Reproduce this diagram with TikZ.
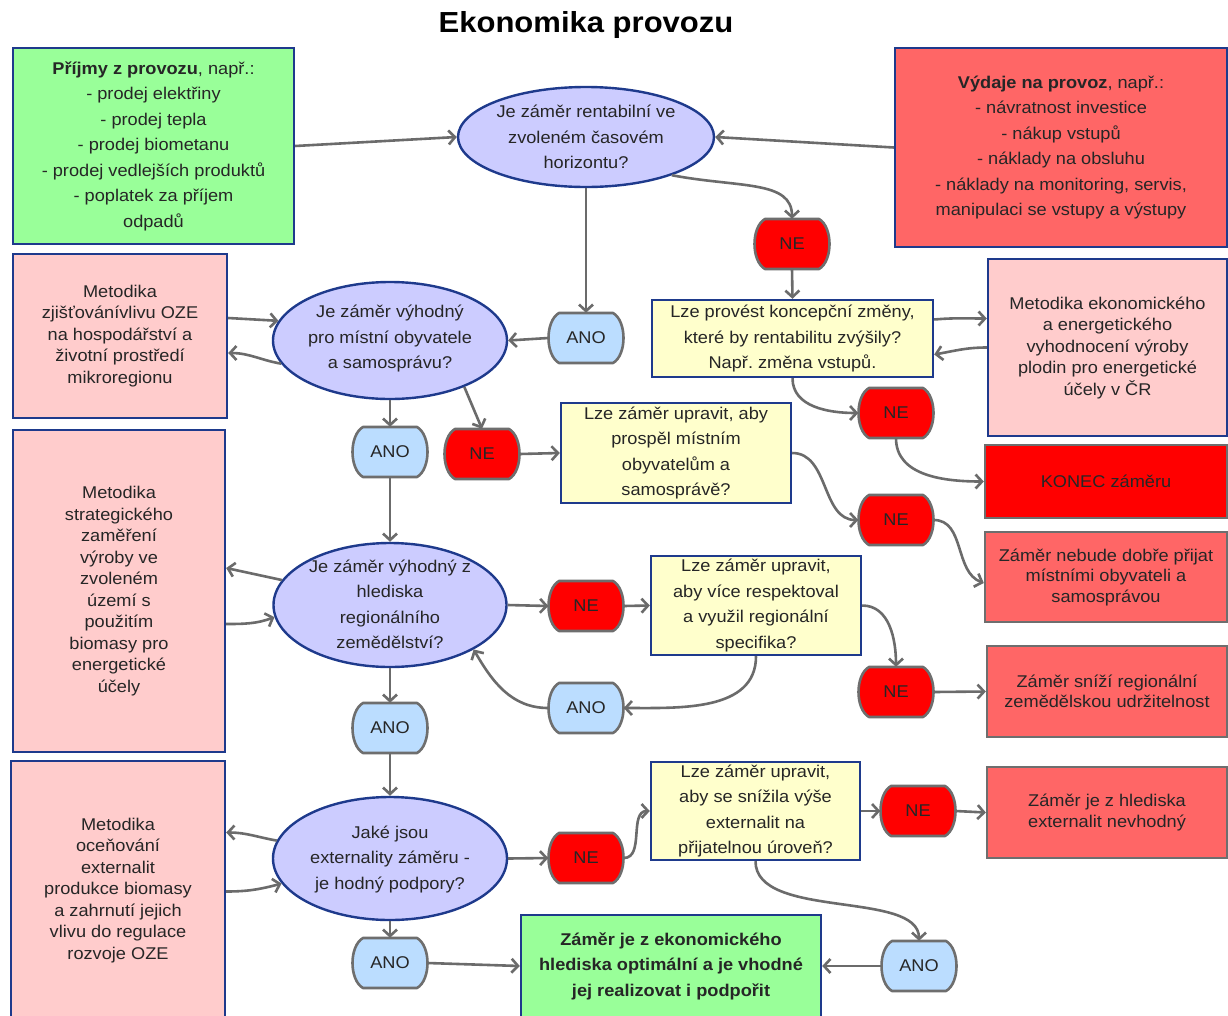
\documentclass[tikz,border=0pt]{standalone}
\usepackage{fontspec}
\setmainfont{Liberation Sans}[FakeStretch=1.07]
\usetikzlibrary{arrows.meta,shapes.geometric,calc}
\frenchspacing

\definecolor{cgreen}{HTML}{99FF99}
\definecolor{cred}{HTML}{FF6666}
\definecolor{cpink}{HTML}{FFCCCC}
\definecolor{cyellow}{HTML}{FFFFCC}
\definecolor{cell}{HTML}{CCCCFF}
\definecolor{cano}{HTML}{BBDDFF}
\definecolor{cne}{HTML}{FF0000}
\definecolor{bordblue}{HTML}{1E3A8C}
\definecolor{bordgray}{HTML}{6E6E6E}
\definecolor{cline}{HTML}{6B6B6B}
\definecolor{txt}{HTML}{262626}

\newcommand\fsmain{\fontsize{17}{25.5}\selectfont}
\newcommand\fsmeth{\fontsize{17}{21.5}\selectfont}
\newcommand\fsres{\fontsize{17}{20.5}\selectfont}

% decision label with bulging sides (ANO / NE)
\newcommand\choicebox[5]{%
  \filldraw[choiceline, fill=#4, shift={(#2,#3)}]
    (-27,-25) -- (27,-25) .. controls (41,-17) and (41,17) .. (27,25)
    -- (-27,25) .. controls (-41,17) and (-41,-17) .. (-27,-25) -- cycle;
  \node[choicetext] (#1) at (#2,#3) {#5};
}

\begin{document}
\begin{tikzpicture}[x=1pt,y=-1pt,
  box/.style={draw=bordblue, line width=2.4pt, align=center, inner sep=0pt, text=txt, font=\fsmain},
  resbox/.style={draw=bordgray, line width=2.4pt, align=center, inner sep=0pt, text=txt, font=\fsres},
  ell/.style={ellipse, draw=bordblue, fill=cell, line width=2.4pt, inner sep=0pt},
  elltext/.style={align=center, inner sep=0pt, text=txt, font=\fsmain},
  choiceline/.style={draw=bordgray, line width=2.6pt, line join=round},
  choicetext/.style={minimum width=75, minimum height=50, inner sep=0pt, text=txt, font=\fsmain},
  conn/.style={draw=cline, line width=2.6pt, -{Straight Barb[length=6.5pt,width=14pt]}}
]
\useasboundingbox (0,0) rectangle (1228,1015);
\clip (0,0) rectangle (1228,1015);
\fill[white] (0,0) rectangle (1228,1015);

% title
\node[text=black, font=\fontsize{29}{34}\selectfont\bfseries] (title) at (586,25) {Ekonomika provozu};

% income and expenses
\node[box, fill=cgreen, minimum width=281, minimum height=196] (inc) at (153.5,146)
  {\textbf{Příjmy z provozu}, např.:\\- prodej elektřiny\\- prodej tepla\\- prodej biometanu\\- prodej vedlejších produktů\\- poplatek za příjem\\odpadů};
\node[box, fill=cred, minimum width=332, minimum height=199] (exp) at (1061,147.5)
  {\textbf{Výdaje na provoz}, např.:\\- návratnost investice\\- nákup vstupů\\- náklady na obsluhu\\- náklady na monitoring, servis,\\manipulaci se vstupy a výstupy};

% questions (ellipses)
\node[ell, minimum width=256, minimum height=100] (e1) at (586,137) {};
\node[elltext] (e1t) at (586,137) {Je záměr rentabilní ve\\zvoleném časovém\\horizontu?};
\node[ell, minimum width=234, minimum height=117] (e2) at (390,340.5) {};
\node[elltext] (e2t) at (390,338.5) {Je záměr výhodný\\pro místní obyvatele\\a samosprávu?};
\node[ell, minimum width=233, minimum height=124] (e3) at (390,605) {};
\node[elltext] (e3t) at (390,604.5) {Je záměr výhodný z\\hlediska\\regionálního\\zemědělství?};
\node[ell, minimum width=234, minimum height=123] (e4) at (390,858.5) {};
\node[elltext] (e4t) at (390,859) {Jaké jsou\\externality záměru -\\je hodný podpory?};

% methodology boxes
\node[box, fill=cpink, font=\fsmeth, minimum width=214, minimum height=164] (p1) at (120,336)
  {Metodika\\zjišťovánívlivu OZE\\na hospodářství a\\životní prostředí\\mikroregionu};
\node[box, fill=cpink, font=\fsmeth, minimum width=239, minimum height=177] (pekon) at (1107.5,347.5)
  {Metodika ekonomického\\a energetického\\vyhodnocení výroby\\plodin pro energetické\\účely v ČR};
\node[box, fill=cpink, font=\fsmeth, minimum width=212, minimum height=322] (p3) at (119,591)
  {Metodika\\strategického\\zaměření\\výroby ve\\zvoleném\\území s\\použitím\\biomasy pro\\energetické\\účely};
\node[box, fill=cpink, font=\fsmeth, minimum width=214, minimum height=259] (p4) at (118,890.5)
  {Metodika\\oceňování\\externalit\\produkce biomasy\\a zahrnutí jejich\\vlivu do regulace\\rozvoje OZE};

% follow-up questions
\node[box, fill=cyellow, minimum width=281, minimum height=77] (y1) at (792.5,338.5)
  {Lze provést koncepční změny,\\které by rentabilitu zvýšily?\\Např. změna vstupů.};
\node[box, fill=cyellow, minimum width=230, minimum height=100] (y2) at (676,453)
  {Lze záměr upravit, aby\\prospěl místním\\obyvatelům a\\samosprávě?};
\node[box, fill=cyellow, minimum width=210, minimum height=99] (y3) at (756,605.5)
  {Lze záměr upravit,\\aby více respektoval\\a využil regionální\\specifika?};
\node[box, fill=cyellow, minimum width=209, minimum height=98] (y4) at (755.5,811)
  {Lze záměr upravit,\\aby se snížila výše\\externalit na\\přijatelnou úroveň?};

% outcomes
\node[resbox, fill=cne, minimum width=242, minimum height=73] (konec) at (1106,481.5) {KONEC záměru};
\node[resbox, fill=cred, minimum width=242, minimum height=90] (nb) at (1106,577)
  {Záměr nebude dobře přijat\\místními obyvateli a\\samosprávou};
\node[resbox, fill=cred, minimum width=240, minimum height=91] (sn) at (1107,691.5)
  {Záměr sníží regionální\\zemědělskou udržitelnost};
\node[resbox, fill=cred, minimum width=240, minimum height=91] (bex) at (1107,812.5)
  {Záměr je z hlediska\\externalit nevhodný};
\node[box, fill=cgreen, font=\fsmain\bfseries, minimum width=300, minimum height=102] (fin) at (671,966)
  {Záměr je z ekonomického\\hlediska optimální a je vhodné\\jej realizovat i podpořit};

% answers
\choicebox{ne1}{792}{244}{cne}{NE}
\choicebox{ano1}{586}{338}{cano}{ANO}
\choicebox{ne2}{896}{413}{cne}{NE}
\choicebox{ano2}{390}{452}{cano}{ANO}
\choicebox{ne3}{482}{454}{cne}{NE}
\choicebox{ne4}{896}{520}{cne}{NE}
\choicebox{ne5}{586}{606}{cne}{NE}
\choicebox{ne6}{896}{692}{cne}{NE}
\choicebox{ano3}{586}{708}{cano}{ANO}
\choicebox{ano4}{390}{728}{cano}{ANO}
\choicebox{ne7}{586}{858}{cne}{NE}
\choicebox{ne8}{918}{811}{cne}{NE}
\choicebox{ano5}{390}{963}{cano}{ANO}
\choicebox{ano6}{919}{966}{cano}{ANO}

% connectors
\draw[conn] (inc.east) -- (e1.west);
\draw[conn] (exp.west) -- (e1.east);
\draw[conn] (e1.-24) .. controls (740,188) and (792,180) .. (ne1.north);
\draw[conn] (e1.south) -- (ano1.north);
\draw[conn] (ano1.west) -- (e2.east);
\draw[conn] (ne1.south) -- (y1.north);
\draw[conn] ([yshift=19pt]y1.east) to[out=5,in=180] ([yshift=29pt]pekon.west);
\draw[conn] (pekon.west) to[out=180,in=10] ([yshift=-16pt]y1.east);
\draw[conn] (y1.south) to[out=-90,in=180] (ne2.west);
\draw[conn] (ne2.south) to[out=-90,in=180] (konec.west);
\draw[conn] ([yshift=18pt]p1.east) -- (e2.170);
\draw[conn] (e2.192) to[out=170,in=0] ([yshift=-17pt]p1.east);
\draw[conn] (e2.south) -- (ano2.north);
\draw[conn] (e2.-32) -- (ne3.north);
\draw[conn] (ne3.east) -- (y2.west);
\draw[conn] (y2.east) to[out=0,in=180] (ne4.west);
\draw[conn] (ne4.east) to[out=0,in=160] ([yshift=-6pt]nb.west);
\draw[conn] (ano2.south) -- (e3.north);
\draw[conn] (e3.167) -- ([yshift=23pt]p3.east);
\draw[conn] ([yshift=-33pt]p3.east) to[out=0,in=200] (e3.186);
\draw[conn] (e3.east) -- (ne5.west);
\draw[conn] (ne5.east) -- (y3.west);
\draw[conn] (y3.east) to[out=0,in=90] (ne6.north);
\draw[conn] (y3.south) to[out=-90,in=0] (ano3.east);
\draw[conn] (ano3.west) to[out=180,in=-60] (e3.-28);
\draw[conn] (ne6.east) -- (sn.west);
\draw[conn] (e3.south) -- (ano4.north);
\draw[conn] (ano4.south) -- (e4.north);
\draw[conn] (e4.171) to[out=170,in=0] ([yshift=58pt]p4.east);
\draw[conn] ([yshift=-1pt]p4.east) to[out=0,in=195] (e4.193);
\draw[conn] (e4.east) -- (ne7.west);
\draw[conn] (ne7.east) to[out=0,in=180] (y4.west);
\draw[conn] (y4.east) -- (ne8.west);
\draw[conn] (ne8.east) -- (bex.west);
\draw[conn] (y4.south) .. controls (755.5,920) and (919,890) .. (ano6.north);
\draw[conn] (ano6.west) -- (fin.east);
\draw[conn] (e4.south) -- (ano5.north);
\draw[conn] (ano5.east) -- (fin.west);
\end{tikzpicture}
\end{document}
